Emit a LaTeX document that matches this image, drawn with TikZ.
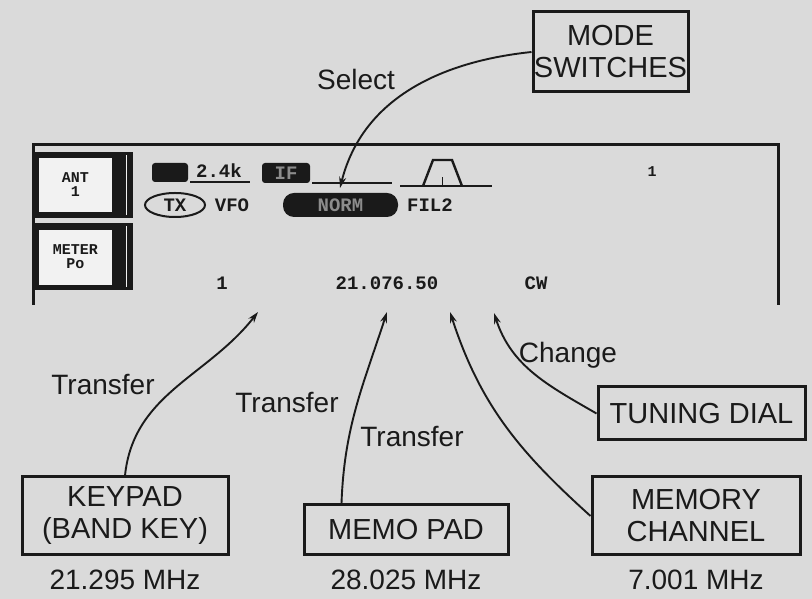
\documentclass[tikz,border=0pt]{standalone}
\usepackage{fontspec}
\setmainfont{Liberation Sans}
\setmonofont{Liberation Mono}
\usepackage{tikz}
\usetikzlibrary{arrows.meta,positioning,shapes.geometric}
\definecolor{bgpaper}{HTML}{DADADA}
\definecolor{inkmain}{HTML}{1A1A1A}
\definecolor{lcdlight}{HTML}{F2F2F2}
\definecolor{lcdfaint}{HTML}{8C8C8C}
\tikzset{
  ctrlbox/.style={draw=inkmain,line width=3pt,fill=bgpaper,align=center,
    inner sep=0pt,font=\fontsize{29}{32}\selectfont,text=inkmain},
  lbl/.style={inner sep=0pt,font=\fontsize{28}{30}\selectfont,text=inkmain},
  lcd/.style={inner sep=0pt,font=\ttfamily\bfseries\fontsize{19}{19}\selectfont,text=inkmain},
  lcdsmall/.style={lcd,align=center,font=\ttfamily\bfseries\fontsize{15}{14}\selectfont},
  flow/.style={-{Stealth[length=11pt,width=7pt]},line width=1.9pt,inkmain},
}

\begin{document}
\begin{tikzpicture}[x=1pt,y=1pt]
  \useasboundingbox (0,0) rectangle (812,599);
  \fill[bgpaper] (0,0) rectangle (812,599);

  % display screen
  \draw[inkmain,line width=3pt] (33,294) -- (33,454) -- (778,454) -- (778,294);
  \fill[inkmain] (33,381) rectangle (133,447);
  \fill[lcdlight] (39,387) rectangle (112,441);
  \draw[lcdlight,line width=1pt] (126,384) -- (126,444);
  \node[lcdsmall] (antsel) at (75.5,414) {ANT\\1};
  \fill[inkmain] (33,309) rectangle (133,376);
  \fill[lcdlight] (39,314) rectangle (112,369);
  \draw[lcdlight,line width=1pt] (126,312) -- (126,373);
  \node[lcdsmall] (metersel) at (75.5,342) {METER\\Po};

  % top row
  \fill[inkmain,rounded corners=3pt] (152,417) rectangle (188,436);
  \node[lcd] (bwval) at (219,428) {2.4k};
  \draw[inkmain,line width=1.8pt] (190,417) -- (250,417);
  \node[lcd,fill=inkmain,text=lcdfaint,rounded corners=3pt,
    minimum width=48pt,minimum height=20pt] (ifblk) at (286,426) {IF};
  \draw[inkmain,line width=1.8pt] (312,416) -- (392,416);
  \draw[inkmain,line width=1.8pt] (400,413) -- (492,413);
  \draw[inkmain,line width=2.4pt] (423,413) -- (433,439) -- (452,439) -- (462,413);
  \draw[inkmain,line width=1pt] (442,413) -- (442,422);
  \node[lcdsmall] (chmark) at (652,427) {1};

  % second row
  \node[lcd,draw=inkmain,ellipse,line width=2pt,minimum width=60pt,
    minimum height=24pt] (txind) at (175,394) {TX};
  \node[lcd] (vfoind) at (232,394) {VFO};
  \node[lcd,fill=inkmain,text=lcdfaint,rounded corners=11pt,
    minimum width=115pt,minimum height=24pt] (modeind) at (340.5,394) {NORM};
  \node[lcd] (filind) at (430,394) {FIL2};

  % frequency row
  \node[lcd] (memno) at (222,316) {1};
  \node[lcd] (freq) at (387,316) {21.076.50};
  \node[lcd] (modetxt) at (536,316) {CW};

  % controls
  \node[ctrlbox,minimum width=155pt,minimum height=80pt] (modesw) at (610.5,547) {MODE\\SWITCHES};
  \node[ctrlbox,minimum width=207pt,minimum height=53pt] (tuning) at (701.5,185.5) {TUNING DIAL};
  \node[ctrlbox,minimum width=206pt,minimum height=78pt] (keypad) at (125,83) {KEYPAD\\(BAND KEY)};
  \node[ctrlbox,minimum width=204pt,minimum height=50pt] (memopad) at (406,69) {MEMO PAD};
  \node[ctrlbox,minimum width=208pt,minimum height=78pt] (memch) at (696,83) {MEMORY\\CHANNEL};

  \node[lbl,below=13pt of keypad] (fkey) {21.295 MHz};
  \node[lbl,below=13pt of keypad.south -| memopad] (fmemo) {28.025 MHz};
  \node[lbl,below=13pt of memch] (fch) {7.001 MHz};

  \coordinate (tipsel) at (340,411);
  \coordinate (tipkey) at (258,287);
  \coordinate (tipmemo) at (387,287);
  \coordinate (tipch) at (450,287);
  \coordinate (tiptune) at (494,286);

  \draw[flow] (modesw.west) to[out=186,in=76] (tipsel);
  \draw[flow] (tuning.west) to[out=150,in=-72] (tiptune);
  \draw[flow] (keypad.north) to[out=84,in=232] (tipkey);
  \draw[flow] ([xshift=39pt]memopad.north west) to[out=88,in=252] (tipmemo);
  \draw[flow] (memch.west) to[out=138,in=-72] (tipch);

  \node[lbl] (sellbl) at (356,519) {Select};
  \node[lbl] (chglbl) at (568,244) {Change};
  \node[lbl] (trkey) at (103,214) {Transfer};
  \node[lbl] (trmemo) at (287,196) {Transfer};
  \node[lbl] (trch) at (412,162) {Transfer};
\end{tikzpicture}
\end{document}
